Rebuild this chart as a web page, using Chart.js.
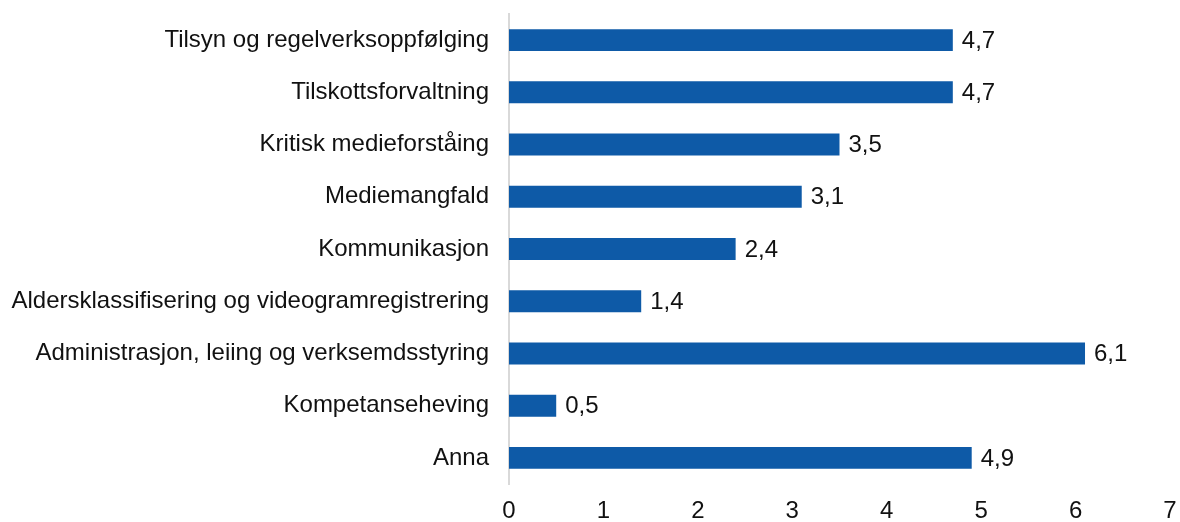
<!DOCTYPE html>
<html>
<head>
<meta charset="utf-8">
<script src="https://cdn.jsdelivr.net/npm/chart.js@4"></script>
<style>
  html, body { margin: 0; padding: 0; background: #fff; }
  #wrap { width: 1180px; height: 522px; }
</style>
</head>
<body>
<div id="wrap"><canvas id="grafica"></canvas></div>
<script>
const kategorier = [
    "Tilsyn og regelverksoppfølging",
    "Tilskottsforvaltning",
    "Kritisk medieforståing",
    "Mediemangfald",
    "Kommunikasjon",
    "Aldersklassifisering og videogramregistrering",
    "Administrasjon, leiing og verksemdsstyring",
    "Kompetanseheving",
    "Anna"
];
const verdiar = [4.7, 4.7, 3.5, 3.1, 2.4, 1.4, 6.1, 0.5, 4.9];
const xTicks = [0, 1, 2, 3, 4, 5, 6, 7];

const fontFamily = "'Liberation Sans', Arial, sans-serif";
const tekstFarge = "#111111";
const fontStorleik = 24;

// skriv verdien ved enden av kvar søyle
const verdiEtikettar = {
    id: "verdiEtikettar",
    afterDatasetsDraw(chart) {
        const ctx = chart.ctx;
        const meta = chart.getDatasetMeta(0);
        ctx.save();
        ctx.font = fontStorleik + "px " + fontFamily;
        ctx.fillStyle = tekstFarge;
        ctx.textAlign = "left";
        ctx.textBaseline = "middle";
        meta.data.forEach((bar, i) => {
            const tekst = verdiar[i].toFixed(1).replace(".", ",");
            ctx.fillText(tekst, bar.x + 9, bar.y + 1);
        });
        ctx.restore();
    }
};

new Chart(document.getElementById("grafica"), {
    type: "bar",
    data: {
        labels: kategorier,
        datasets: [
            {
                data: verdiar,
                backgroundColor: "#0e5aa7",
                borderWidth: 0,
                barPercentage: 0.42,
                categoryPercentage: 1.0
            }
        ]
    },
    options: {
        indexAxis: "y",
        responsive: true,
        maintainAspectRatio: false,
        animation: false,
        layout: { padding: { top: 14, right: 10, bottom: 0, left: 0 } },
        plugins: {
            legend: { display: false },
            tooltip: { enabled: false }
        },
        scales: {
            x: {
                min: 0,
                max: 7,
                afterBuildTicks: (scale) => {
                    scale.ticks = xTicks.map((v) => ({ value: v }));
                },
                afterFit: (scale) => {
                    scale.height = 38;
                    scale.paddingLeft = 0;
                    scale.paddingRight = 0;
                },
                grid: { display: false, drawTicks: false },
                border: { display: false },
                ticks: {
                    padding: 13,
                    color: tekstFarge,
                    font: { family: fontFamily, size: fontStorleik }
                }
            },
            y: {
                afterFit: (scale) => {
                    scale.width = 509;
                    scale.paddingTop = 0;
                    scale.paddingBottom = 0;
                },
                grid: { display: false, drawTicks: false },
                border: { display: true, color: "#d9d9d9", width: 2 },
                ticks: {
                    padding: 20,
                    color: tekstFarge,
                    autoSkip: false,
                    font: { family: fontFamily, size: fontStorleik }
                }
            }
        }
    },
    plugins: [verdiEtikettar]
});
</script>
</body>
</html>
